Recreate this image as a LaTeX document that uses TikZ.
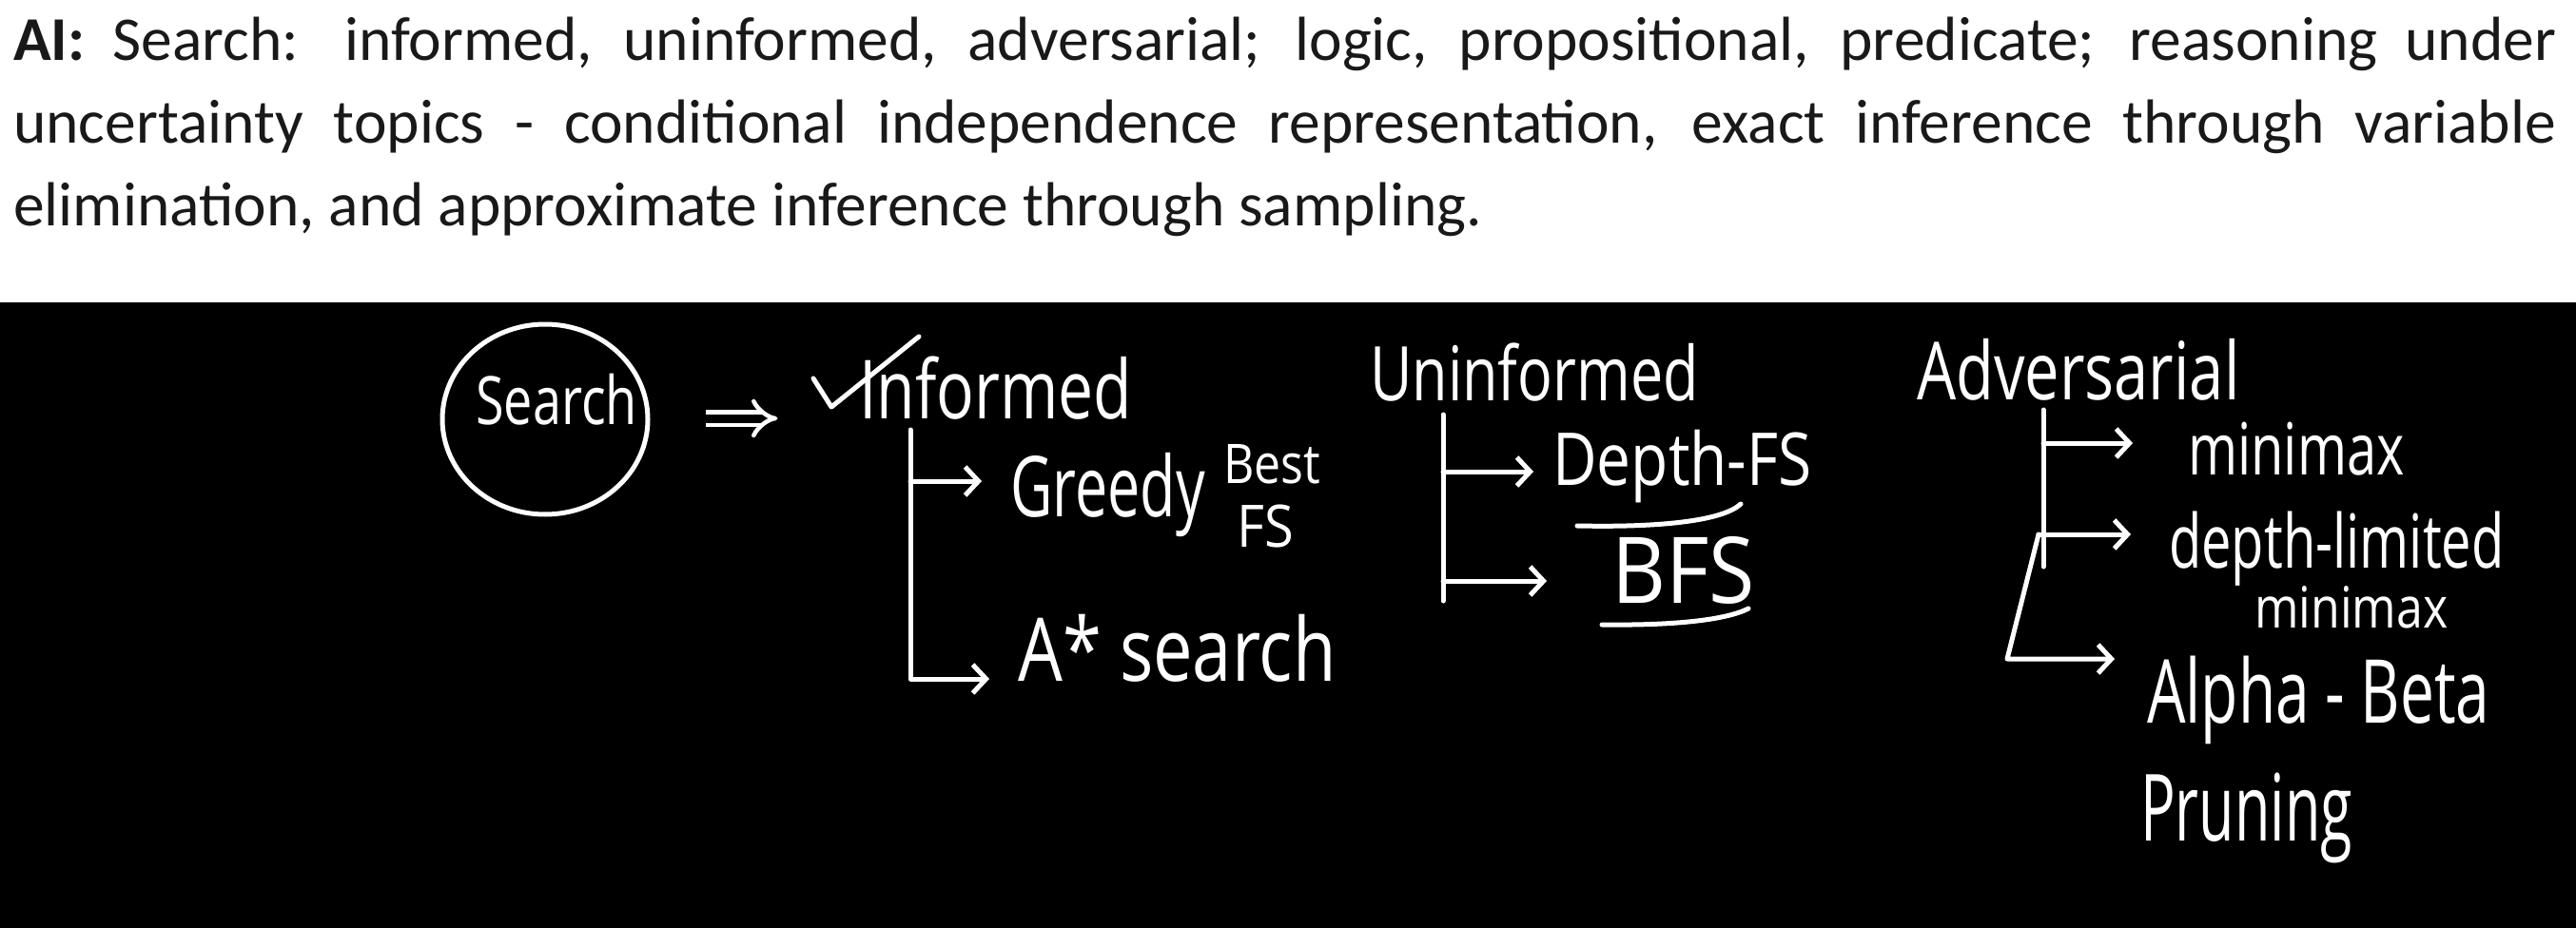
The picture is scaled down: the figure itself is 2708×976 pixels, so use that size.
\documentclass[tikz,border=0pt]{standalone}
\usepackage{fontspec}
\usepackage{graphicx}
\setmainfont{Carlito}
\newfontfamily\hand{Open Sans}
\newcommand{\tall}[2][1.3]{\scalebox{1}[#1]{#2}}
\usetikzlibrary{arrows.meta,shapes.geometric}
\begin{document}
\begin{tikzpicture}[x=1pt,y=-1pt,
  para/.style={anchor=base west, inner sep=0pt, text=black!90},
  hw/.style={anchor=base west, inner sep=0pt, text=white},
  stroke/.style={draw=white, line width=5pt, line cap=round, line join=round},
  branch/.style={stroke, -{Straight Barb[length=14pt,width=30pt,line width=5pt]}},
  dbl/.style={draw=white, double=black, double distance=9pt, line width=4.5pt, -{Implies[length=14pt]}}]
\useasboundingbox (0,0) rectangle (2708,976);
\fill[white] (0,0) rectangle (2708,318);
\fill[black] (0,318) rectangle (2708,976);
% paragraph
\node[para] (l1) at (14,64) {\fontsize{65.5}{80}\selectfont\hbox to 2673pt{\textbf{AI:} Search: informed, uninformed, adversarial; logic, propositional, predicate; reasoning under}};
\node[para] (l2) at (14,151) {\fontsize{65.5}{80}\selectfont\hbox to 2673pt{uncertainty topics - conditional independence representation, exact inference through variable}};
\node[para] (l3) at (14,238) {\fontsize{65.5}{80}\selectfont elimination, and approximate inference through sampling.};
% Search
\node[ellipse, draw=white, line width=5pt, minimum width=216pt, minimum height=200pt, inner sep=0pt] (search) at (573,441) {};
\node[hw, font=\hand\fontsize{54}{60}\selectfont] (searchlbl) at (500,446) {\tall{Search}};
% headings
\node[hw, font=\hand\fontsize{66}{70}\selectfont] (informed) at (903,440) {\tall{Informed}};
\node[hw, font=\hand\fontsize{61}{70}\selectfont] (uninformed) at (1440,421) {\tall{Uninformed}};
\node[hw, font=\hand\fontsize{65}{70}\selectfont] (adversarial) at (2015,420) {\tall{Adversarial}};
\draw[dbl] (search.east) ++(58,-1) -- ++(76,0);
\draw[stroke] (855,398) -- (874,428) -- (966,354);
% informed branch
\node[hw, font=\hand\fontsize{61}{60}\selectfont] (greedy) at (1062,543) {\tall[1.45]{Greedy}};
\node[hw, font=\hand\fontsize{50}{50}\selectfont] (best) at (1286,508) {\tall[1.15]{Best}};
\node[hw, font=\hand\fontsize{56}{60}\selectfont] (fs) at (1300,575) {\tall[1.1]{FS}};
\node[hw, font=\hand\fontsize{74}{70}\selectfont] (astar) at (1070,716) {\tall[1.25]{A* search}};
\coordinate (it) at (957,452);
\coordinate (ig) at (957,506);
\coordinate (ib) at (957,714);
\draw[branch, shorten >=30pt] (it) -- (ib) -- (ib -| astar.west);
\draw[branch, shorten >=30pt] (ig) -- (ig -| greedy.west);
% uninformed branch
\node[hw, font=\hand\fontsize{64}{60}\selectfont] (dfs) at (1632,510) {\tall[1.2]{Depth-FS}};
\node[hw, font=\hand\fontsize{88}{80}\selectfont] (bfs) at (1694,634) {\tall[1.1]{BFS}};
\coordinate (ut) at (1517,436);
\coordinate (ud) at (1517,496);
\coordinate (ub) at (1517,611);
\draw[stroke] (ut) -- (ub |- 0,632);
\draw[branch, shorten >=20pt] (ud) -- (ud -| dfs.west);
\draw[branch, shorten >=68pt] (ub) -- (ub -| bfs.west);
\draw[stroke] (1658,553) .. controls (1750,555) and (1812,547) .. (1830,530);
\draw[stroke] (1684,657) .. controls (1760,658) and (1815,652) .. (1838,640);
% adversarial branch
\node[hw, font=\hand\fontsize{56}{60}\selectfont] (minimax) at (2300,499) {\tall[1.35]{minimax}};
\node[hw, font=\hand\fontsize{56}{60}\selectfont] (depthlim) at (2280,597) {\tall[1.4]{depth-limited}};
\node[hw, font=\hand\fontsize{50}{60}\selectfont] (minimax2) at (2370,660) {\tall[1.2]{minimax}};
\node[hw, font=\hand\fontsize{64}{60}\selectfont] (alpha) at (2257,760) {\tall[1.45]{Alpha - Beta}};
\node[hw, font=\hand\fontsize{61}{60}\selectfont] (pruning) at (2250,884) {\tall[1.6]{Pruning}};
\coordinate (at) at (2148,431);
\coordinate (am) at (2148,466);
\coordinate (ab) at (2148,596);
\coordinate (a2) at (2143,562);
\coordinate (a3) at (2110,693);
\draw[stroke] (at) -- (ab);
\draw[branch, shorten >=58pt] (am) -- (am -| minimax.west);
\draw[branch, shorten >=40pt] (a2) -- (a2 -| depthlim.west);
\draw[branch, shorten >=34pt] (a2) -- (a3) -- (a3 -| alpha.west);
\end{tikzpicture}
\end{document}
